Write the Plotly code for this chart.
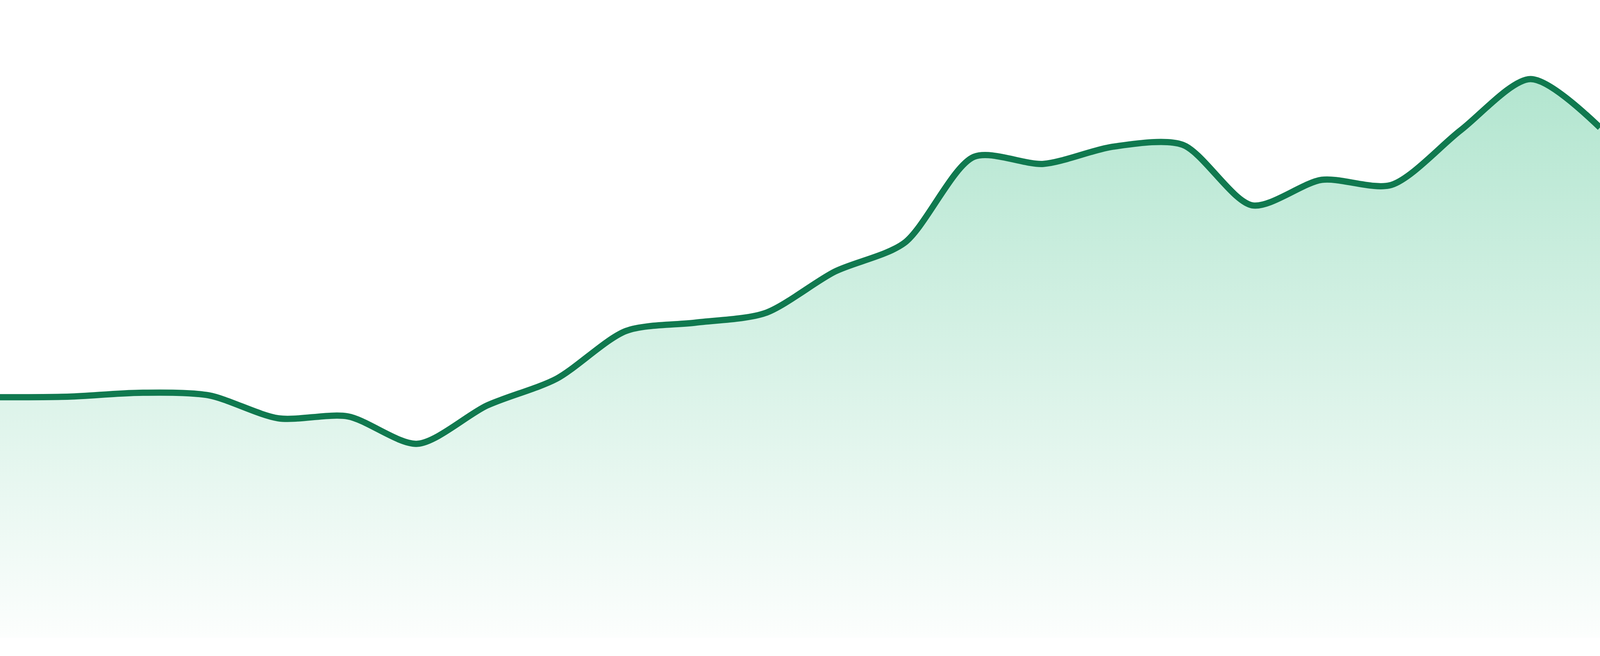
import plotly.graph_objects as go

# 24 evenly spaced samples (axis runs 0..100)
idx = list(range(24))
values = [37.7, 37.8, 38.4, 38.0, 34.4, 34.7, 30.4, 36.4, 40.6, 48.1, 49.4, 50.9,
          57.4, 61.9, 75.4, 74.3, 77.0, 77.3, 67.8, 71.8, 71.0, 79.6, 87.6, 80.0]

line_color = "rgb(16,121,79)"
fill_bottom = "rgb(252,254,253)"
fill_top = "rgb(168,226,201)"

fig = go.Figure()
fig.add_trace(go.Scatter(
    x=idx,
    y=values,
    mode="lines",
    line=dict(color=line_color, width=16, shape="spline", smoothing=0.8),
    fill="tozeroy",
    fillgradient=dict(type="vertical", start=0, stop=100,
                      colorscale=[[0, fill_bottom], [1, fill_top]]),
    hoverinfo="skip",
))

fig.update_layout(
    autosize=True,
    margin=dict(l=0, r=0, t=0, b=47),
    paper_bgcolor="white",
    plot_bgcolor="white",
    showlegend=False,
    xaxis=dict(range=[0, 23], visible=False, fixedrange=True),
    yaxis=dict(range=[0, 100], visible=False, fixedrange=True),
)

# chart fills the whole browser window, no page margin
fig.write_html(
    "out.html",
    default_width="100vw",
    default_height="100vh",
    config={"displayModeBar": False, "responsive": True},
    post_script="document.body.style.margin='0';document.body.style.overflow='hidden';",
)
